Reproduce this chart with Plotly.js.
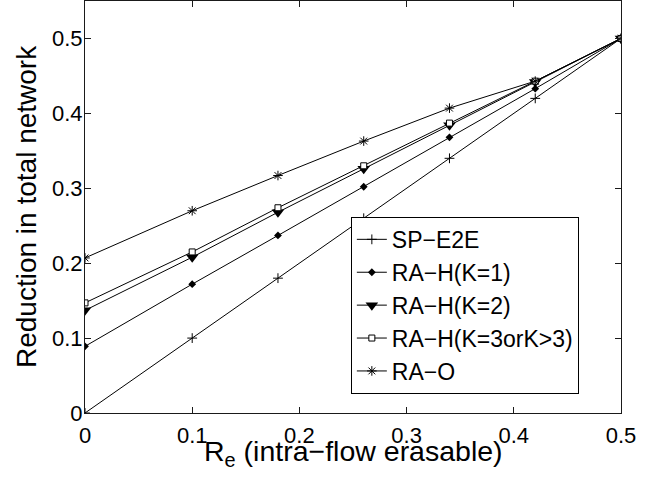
<!DOCTYPE html>
<html>
<head>
<meta charset="utf-8">
<script src="https://cdn.plot.ly/plotly-3.0.1.min.js"></script>
<style>html,body{margin:0;padding:0;background:#fff;}#chart{width:662px;height:480px;}</style>
</head>
<body>
<div id="chart"></div>
<script>
const re = [0, 0.1, 0.18, 0.26, 0.34, 0.42, 0.5];
const spE2E = [0, 0.1, 0.18, 0.26, 0.34, 0.42, 0.5];
const raH1 = [0.089, 0.172, 0.237, 0.302, 0.368, 0.433, 0.5];
const raH2 = [0.137, 0.208, 0.268, 0.326, 0.384, 0.442, 0.5];
const raH3 = [0.147, 0.215, 0.274, 0.330, 0.387, 0.443, 0.5];
const raO = [0.207, 0.270, 0.317, 0.363, 0.407, 0.443, 0.5];
const xTicks = [0, 0.1, 0.2, 0.3, 0.4, 0.5];
const yTicks = [0, 0.1, 0.2, 0.3, 0.4, 0.5];
const names = ['SP\u2212E2E', 'RA\u2212H(K=1)', 'RA\u2212H(K=2)', 'RA\u2212H(K=3orK>3)', 'RA\u2212O'];
const xTitle = 'R<sub>e</sub> (intra\u2212flow erasable)';
const yTitle = 'Reduction in total network';

const line = {color: '#000', width: 1};
const traces = [
  {x: re, y: spE2E, name: names[0], mode: 'lines+markers', line: line, legendgroup: 'a',
   marker: {symbol: 'cross-thin-open', size: 7, color: '#000', line: {color: '#000', width: 1}}},
  {x: re, y: raH1, name: names[1], mode: 'lines+markers', line: line, legendgroup: 'b',
   marker: {symbol: 'diamond', size: 6, color: '#000', line: {color: '#000', width: 0}}},
  {x: re, y: raH2, name: names[2], mode: 'lines+markers', line: line, legendgroup: 'c',
   marker: {symbol: 'triangle-down', size: 11, color: '#000', line: {color: '#000', width: 0}}},
  {x: re, y: raH3, name: names[3], mode: 'lines+markers', line: line, legendgroup: 'd',
   marker: {symbol: 'square', size: 6, color: '#fff', line: {color: '#000', width: 1}}},
  {x: re, y: raO, name: names[4], mode: 'lines+markers', line: line, legendgroup: 'e',
   marker: {symbol: 'asterisk-open', size: 8, color: '#000', line: {color: '#000', width: 1}}}
];

const font = {family: 'Liberation Sans, Arial, Helvetica, sans-serif', color: '#000'};
const axisCommon = {
  showgrid: false, zeroline: false, showline: true, linecolor: '#1a1a1a', linewidth: 1,
  mirror: 'ticks', ticks: 'inside', ticklen: 6, tickcolor: '#1a1a1a', tickwidth: 1,
  tickfont: Object.assign({}, font, {size: 22})
};
const layout = {
  width: 662, height: 480,
  margin: {l: 85, r: 41, t: 1, b: 67},
  paper_bgcolor: '#fff', plot_bgcolor: '#fff',
  font: font,
  showlegend: true,
  xaxis: Object.assign({}, axisCommon, {
    range: [0, 0.5], tickvals: xTicks, ticktext: xTicks.map(String), ticklabelstandoff: 3
  }),
  yaxis: Object.assign({}, axisCommon, {
    range: [0, 0.55], tickvals: yTicks, ticktext: yTicks.map(String), ticklabelstandoff: -3
  }),
  annotations: [
    {text: xTitle, xref: 'paper', yref: 'paper', x: 0.5, y: (413 - 433) / 412,
     xanchor: 'center', yanchor: 'top', showarrow: false, font: Object.assign({}, font, {size: 28.5})},
    {text: yTitle, xref: 'paper', yref: 'paper', x: (26 - 85) / 536, y: 0.5, textangle: -90,
     xanchor: 'center', yanchor: 'middle', showarrow: false, font: Object.assign({}, font, {size: 28})}
  ],
  legend: {
    x: 0.496, y: 0.476, xanchor: 'left', yanchor: 'top',
    bgcolor: '#fff', bordercolor: '#000', borderwidth: 1,
    font: Object.assign({}, font, {size: 23}), tracegroupgap: 5,
    traceorder: 'normal'
  }
};
Plotly.newPlot('chart', traces, layout, {staticPlot: true, displayModeBar: false});
</script>
</body>
</html>
